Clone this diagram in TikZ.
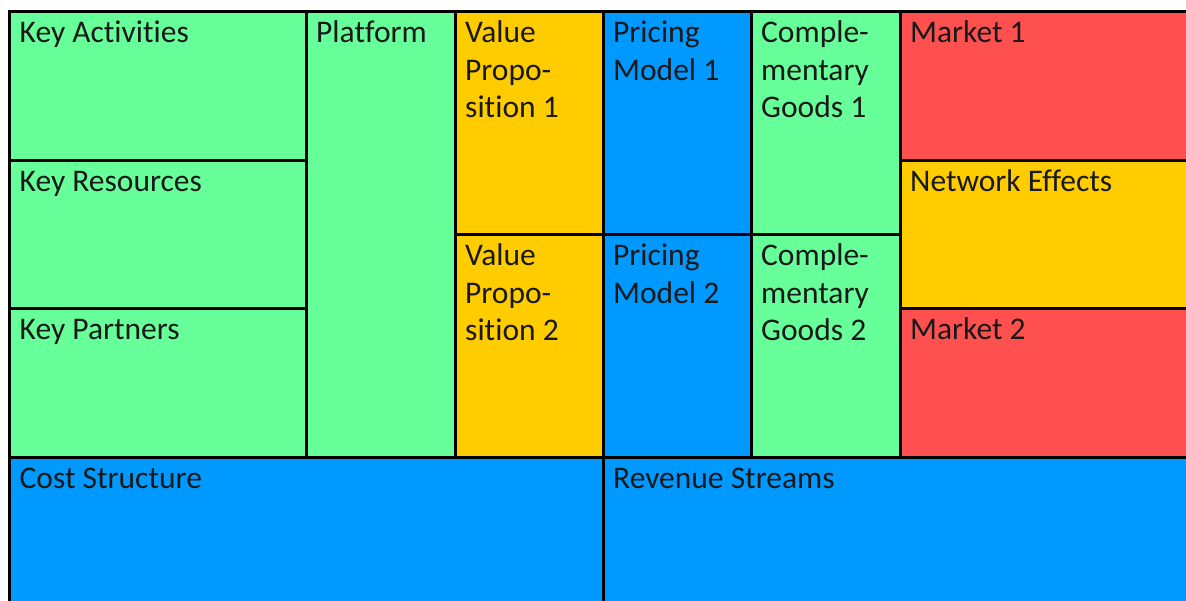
\documentclass[tikz,border=0pt]{standalone}
\usepackage{fontspec}
\setmainfont{Carlito}[Ligatures=NoCommon]
\usetikzlibrary{positioning}
\definecolor{cellgreen}{HTML}{66FF99}
\definecolor{cellorange}{HTML}{FFCC00}
\definecolor{cellblue}{HTML}{0099FF}
\definecolor{cellred}{HTML}{FF5050}

\begin{document}
\begin{tikzpicture}[
  x=1pt,y=-1pt,
  cell/.style={rectangle,draw=black,line width=3pt,inner sep=0pt,outer sep=0pt,anchor=north west},
  lbl/.style={anchor=north west,inner sep=0pt,align=left,text=black!90,font=\fontsize{31.5}{37.5}\selectfont}
]
\useasboundingbox (0,0) rectangle (1186,601);
\clip (0,0) rectangle (1186,601);

% Left column
\node[cell,fill=cellgreen,minimum width=296.5pt,minimum height=148.5pt] (activities) at (9.5,12) {};
\node[cell,fill=cellgreen,minimum width=296.5pt,minimum height=148.5pt] (resources) at (activities.south west) {};
\node[cell,fill=cellgreen,minimum width=296.5pt,minimum height=148.5pt] (partners) at (resources.south west) {};

% Platform
\node[cell,fill=cellgreen,minimum width=149pt,minimum height=445.5pt] (platform) at (activities.north east) {};

% Value propositions
\node[cell,fill=cellorange,minimum width=148pt,minimum height=223pt] (value1) at (platform.north east) {};
\node[cell,fill=cellorange,minimum width=148pt,minimum height=222.5pt] (value2) at (value1.south west) {};

% Pricing models
\node[cell,fill=cellblue,minimum width=148pt,minimum height=223pt] (pricing1) at (value1.north east) {};
\node[cell,fill=cellblue,minimum width=148pt,minimum height=222.5pt] (pricing2) at (pricing1.south west) {};

% Complementary goods
\node[cell,fill=cellgreen,minimum width=149pt,minimum height=223pt] (goods1) at (pricing1.north east) {};
\node[cell,fill=cellgreen,minimum width=149pt,minimum height=222.5pt] (goods2) at (goods1.south west) {};

% Markets
\node[cell,fill=cellred,minimum width=300pt,minimum height=148.5pt] (market1) at (goods1.north east) {};
\node[cell,fill=cellorange,minimum width=300pt,minimum height=148.5pt] (network) at (market1.south west) {};
\node[cell,fill=cellred,minimum width=300pt,minimum height=148.5pt] (market2) at (network.south west) {};

% Bottom row
\node[cell,fill=cellblue,minimum width=593.5pt,minimum height=160pt] (cost) at (partners.south west) {};
\node[cell,fill=cellblue,minimum width=600pt,minimum height=160pt] (revenue) at (cost.north east) {};

% Labels
\node[lbl] (lactivities) at ([shift={(10,4.5)}]activities.north west) {\strut Key Activities};
\node[lbl] (lresources) at ([shift={(10,4.5)}]resources.north west) {\strut Key Resources};
\node[lbl] (lpartners) at ([shift={(10,4.5)}]partners.north west) {\strut Key Partners};
\node[lbl] (lplatform) at ([shift={(10,4.5)}]platform.north west) {\strut Platform};
\node[lbl] (lvalue1) at ([shift={(10,4.5)}]value1.north west) {\strut Value\\Propo-\\sition 1};
\node[lbl] (lvalue2) at ([shift={(10,4.5)}]value2.north west) {\strut Value\\Propo-\\sition 2};
\node[lbl] (lpricing1) at ([shift={(10,4.5)}]pricing1.north west) {\strut Pricing\\Model 1};
\node[lbl] (lpricing2) at ([shift={(10,4.5)}]pricing2.north west) {\strut Pricing\\Model 2};
\node[lbl] (lgoods1) at ([shift={(10,4.5)}]goods1.north west) {\strut Comple-\\mentary\\Goods 1};
\node[lbl] (lgoods2) at ([shift={(10,4.5)}]goods2.north west) {\strut Comple-\\mentary\\Goods 2};
\node[lbl] (lmarket1) at ([shift={(10,4.5)}]market1.north west) {\strut Market 1};
\node[lbl] (lnetwork) at ([shift={(10,4.5)}]network.north west) {\strut Network Effects};
\node[lbl] (lmarket2) at ([shift={(10,4.5)}]market2.north west) {\strut Market 2};
\node[lbl] (lcost) at ([shift={(10,4.5)}]cost.north west) {\strut Cost Structure};
\node[lbl] (lrevenue) at ([shift={(10,4.5)}]revenue.north west) {\strut Revenue Streams};

\end{tikzpicture}
\end{document}
